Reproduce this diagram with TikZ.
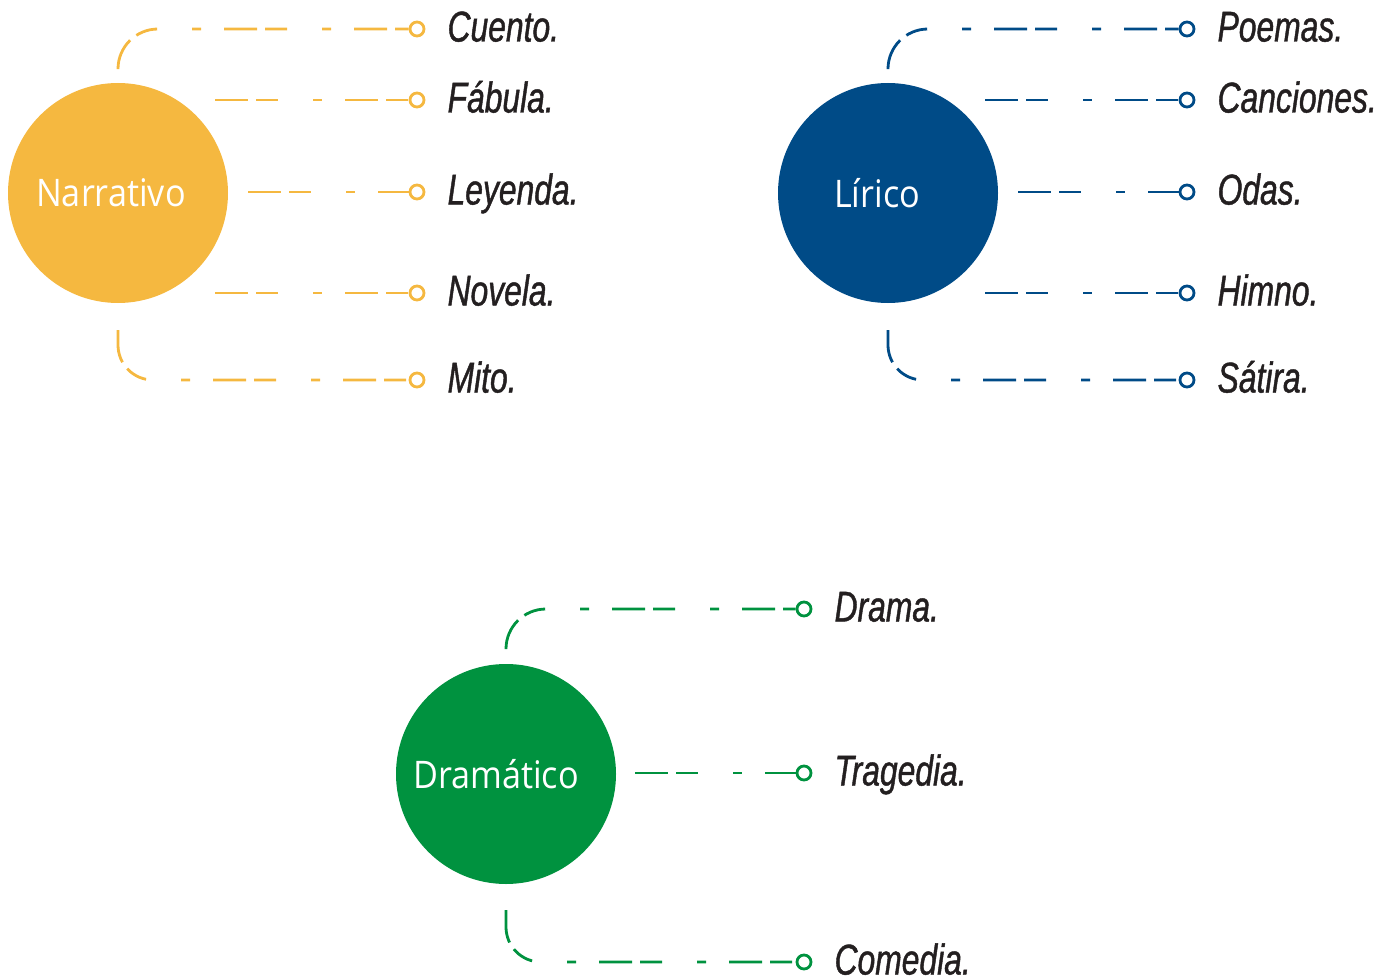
\documentclass[tikz,border=0pt]{standalone}
\usepackage{fontspec}
\usetikzlibrary{positioning}
\newfontfamily\itemfont[FakeStretch=0.74, FakeBold=1]{Liberation Sans}
\newfontfamily\catfont[FakeStretch=0.9]{Open Sans}
\definecolor{narrcol}{RGB}{245,184,64}
\definecolor{lircol}{RGB}{0,75,135}
\definecolor{dramcol}{RGB}{0,146,63}
\definecolor{textcol}{RGB}{35,31,32}

\begin{document}
\begin{tikzpicture}[x=1pt, y=-1pt, node distance = 22pt,
    cat/.style={circle, minimum size=220pt, inner sep=0pt, text=white,
                font=\catfont\fontsize{38}{44}\selectfont},
    enddot/.style={circle, draw, fill=white, line width=2.8pt,
                   minimum size=14pt, inner sep=0pt},
    item/.style={font=\itemfont\itshape\fontsize{43}{50}\selectfont, text=textcol,
                 inner sep=0pt, text height=25pt, text depth=0pt},
    branch/.style={line width=2.8pt,
                   dash pattern=on 33pt off 8pt on 22pt off 35pt on 9pt off 23pt}]

\useasboundingbox (0,0) rectangle (1390,979);

% Narrativo
\node[cat, fill=narrcol](narr) at (118,193) {Narrativo\hspace*{14pt}};

\coordinate (narr-1) at (118,68);
\coordinate (narr-2) at (215,100);
\coordinate (narr-3) at (248,192);
\coordinate (narr-4) at (215,293);
\coordinate (narr-5) at (118,330);

\node[enddot, draw=narrcol](cuento) at (417,29) {};
\node[enddot, draw=narrcol](fabula) at (417,100) {};
\node[enddot, draw=narrcol](leyenda) at (417,192) {};
\node[enddot, draw=narrcol](novela) at (417,293) {};
\node[enddot, draw=narrcol](mito) at (417,380) {};

\node[item, right = of cuento](cuento-txt) {Cuento.};
\node[item, right = of fabula](fabula-txt) {Fábula.};
\node[item, right = of leyenda](leyenda-txt) {Leyenda.};
\node[item, right = of novela](novela-txt) {Novela.};
\node[item, right = of mito](mito-txt) {Mito.};

\draw[branch, narrcol, rounded corners=40pt] (narr-1) |- (cuento);
\draw[branch, narrcol] (narr-2) -- (fabula);
\draw[branch, narrcol] (narr-3) -- (leyenda);
\draw[branch, narrcol] (narr-4) -- (novela);
\draw[branch, narrcol, rounded corners=35pt] (narr-5) |- (mito);

% Lirico
\node[cat, fill=lircol](lir) at (888,193) {Lírico\hspace*{22pt}};

\coordinate (lir-1) at (888,68);
\coordinate (lir-2) at (985,100);
\coordinate (lir-3) at (1018,192);
\coordinate (lir-4) at (985,293);
\coordinate (lir-5) at (888,330);

\node[enddot, draw=lircol](poemas) at (1187,29) {};
\node[enddot, draw=lircol](canciones) at (1187,100) {};
\node[enddot, draw=lircol](odas) at (1187,192) {};
\node[enddot, draw=lircol](himno) at (1187,293) {};
\node[enddot, draw=lircol](satira) at (1187,380) {};

\node[item, right = of poemas](poemas-txt) {Poemas.};
\node[item, right = of canciones](canciones-txt) {Canciones.};
\node[item, right = of odas](odas-txt) {Odas.};
\node[item, right = of himno](himno-txt) {Himno.};
\node[item, right = of satira](satira-txt) {Sátira.};

\draw[branch, lircol, rounded corners=40pt] (lir-1) |- (poemas);
\draw[branch, lircol] (lir-2) -- (canciones);
\draw[branch, lircol] (lir-3) -- (odas);
\draw[branch, lircol] (lir-4) -- (himno);
\draw[branch, lircol, rounded corners=35pt] (lir-5) |- (satira);

% Dramatico
\node[cat, fill=dramcol](dram) at (506,774) {Dramático\hspace*{20pt}};

\coordinate (dram-1) at (506,648);
\coordinate (dram-2) at (635,773);
\coordinate (dram-3) at (506,910);

\node[enddot, draw=dramcol](drama) at (804,609) {};
\node[enddot, draw=dramcol](tragedia) at (804,773) {};
\node[enddot, draw=dramcol](comedia) at (804,962) {};

\node[item, right = of drama](drama-txt) {Drama.};
\node[item, right = of tragedia](tragedia-txt) {Tragedia.};
\node[item, right = of comedia](comedia-txt) {Comedia.};

\draw[branch, dramcol, rounded corners=40pt] (dram-1) |- (drama);
\draw[branch, dramcol] (dram-2) -- (tragedia);
\draw[branch, dramcol, rounded corners=35pt] (dram-3) |- (comedia);

\end{tikzpicture}
\end{document}
